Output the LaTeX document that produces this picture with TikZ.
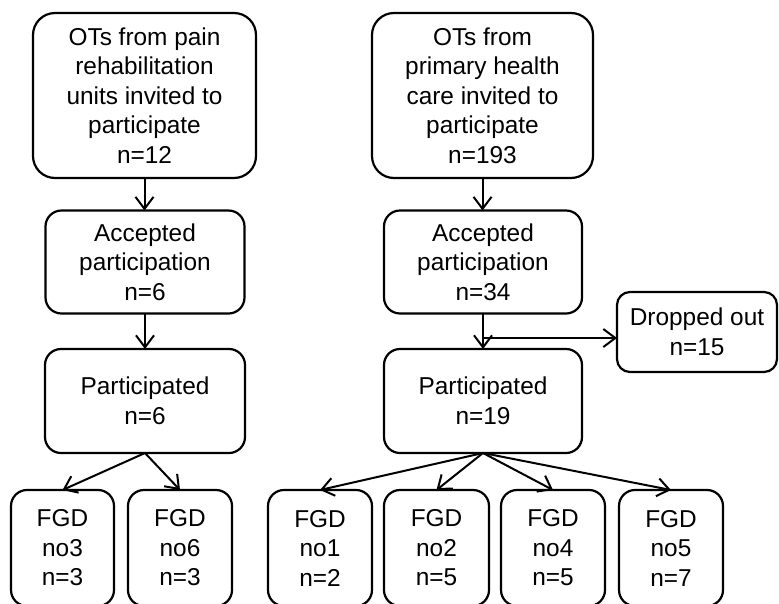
\documentclass[tikz,border=0pt]{standalone}
\usepackage{fontspec}
\setmainfont{Liberation Sans}
\usetikzlibrary{arrows.meta}
\begin{document}
\begin{tikzpicture}[x=1pt,y=-1pt,
  box/.style={draw, line width=2.2pt, align=center, inner sep=0pt, outer sep=0pt,
    font=\fontsize{24.4}{29.5}\selectfont},
  topbox/.style={box, rounded corners=22pt, minimum height=165pt},
  midbox/.style={box, rounded corners=16pt, minimum height=103pt},
  fgdbox/.style={box, rounded corners=16pt, minimum height=116pt, minimum width=104pt},
  conn/.style={line width=2pt, -{Straight Barb[length=12pt,width=18pt,line width=2pt]}}]
\useasboundingbox (0,0) rectangle (779,603);
\clip (0,0) rectangle (779,603);
% top row
\node[topbox, minimum width=223pt] (t1) at (144.5,95.5) {OTs from pain\\rehabilitation\\units invited to\\participate\\n=12};
\node[topbox, minimum width=221pt] (t2) at (482.5,95.5) {OTs from\\primary health\\care invited to\\participate\\n=193};
% accepted
\node[midbox, minimum width=199pt] (a1) at (145,262) {Accepted\\participation\\n=6};
\node[midbox, minimum width=198pt] (a2) at (483,262) {Accepted\\participation\\n=34};
% participated
\node[midbox, minimum width=200pt, minimum height=104pt] (p1) at (145,401) {Participated\\n=6};
\node[midbox, minimum width=198pt, minimum height=104pt] (p2) at (483,401) {Participated\\n=19};
% dropped out
\node[box, rounded corners=13pt, minimum width=160pt, minimum height=80pt] (d) at (697,332) {Dropped out\\n=15};
% FGD boxes
\node[fgdbox, minimum width=103pt] (g3) at (62.5,548) {FGD\\no3\\n=3};
\node[fgdbox] (g6) at (180,548) {FGD\\no6\\n=3};
\node[fgdbox] (g1) at (320,548) {FGD\\no1\\n=2};
\node[fgdbox, minimum width=105pt] (g2) at (436.5,548) {FGD\\no2\\n=5};
\node[fgdbox] (g4) at (553,548) {FGD\\no4\\n=5};
\node[fgdbox] (g5) at (671,548) {FGD\\no5\\n=7};
% connectors
\draw[conn] (t1.south) -- (t1.south |- a1.north);
\draw[conn] (t2.south) -- (t2.south |- a2.north);
\draw[conn] (a1.south) -- (a1.south |- p1.north);
\draw[conn] (a2.south) -- (a2.south |- p2.north);
\coordinate (j) at (483,338);
\draw[conn] (j) -- (d.west |- j);
\draw[conn] (p1.south) -- (g3.north);
\draw[conn] (p1.south) -- (g6.north);
\draw[conn] (p2.south) -- (g1.north);
\draw[conn] (p2.south) -- (g2.north);
\draw[conn] (p2.south) -- (g4.north);
\draw[conn] (p2.south) -- (g5.north);
\end{tikzpicture}
\end{document}
